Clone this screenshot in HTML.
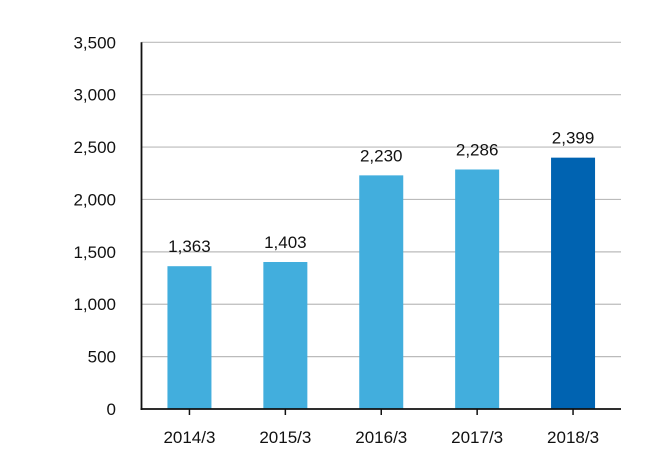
<!DOCTYPE html>
<html><head><meta charset="utf-8"><style>
html,body{margin:0;padding:0;background:#fff;}
svg{display:block;font-family:"Liberation Sans",sans-serif;}
</style></head><body>
<svg id="chart" width="660" height="460"></svg>
<script>
const categories=["2014/3","2015/3","2016/3","2017/3","2018/3"];
const values=[1363,1403,2230,2286,2399];
const valueLabels=["1,363","1,403","2,230","2,286","2,399"];
const tickValues=[0,500,1000,1500,2000,2500,3000,3500];
const tickLabels=["0","500","1,000","1,500","2,000","2,500","3,000","3,500"];
const NS="http://www.w3.org/2000/svg";
const svg=document.getElementById('chart');
const x0=141.5,x1=621,yBase=409,yTop=42.3,vMax=3500;
const band=(x1-x0)/categories.length,barW=44;
function y(v){return yBase-(v/vMax)*(yBase-yTop);}
function xc(i){return x0+band*(i+0.5);}
function mk(t,a){const e=document.createElementNS(NS,t);for(const k in a)e.setAttribute(k,a[k]);svg.appendChild(e);return e;}
tickValues.forEach((v,i)=>{
  if(v>0){const g=mk('line',{x1:x0,x2:x1,y1:y(v),y2:y(v),stroke:'#bbb','stroke-width':1.2});
  
  }
  const t=mk('text',{x:116,y:y(v)+6,'text-anchor':'end','font-size':17,fill:'#111'});
  t.textContent=tickLabels[i];
  
  
});
values.forEach((v,i)=>{
  const r=mk('rect',{x:xc(i)-barW/2,y:y(v),width:barW,height:yBase-y(v),fill:i===values.length-1?'#0063b1':'#42aedd'});
  
  
  const l=mk('text',{x:xc(i),y:y(v)-14,'text-anchor':'middle','font-size':17,fill:'#111'});
  l.textContent=valueLabels[i];
  
  
  const tk=mk('line',{x1:xc(i),x2:xc(i),y1:yBase,y2:yBase+6,stroke:'#111','stroke-width':1.5});
  
  
  const c=mk('text',{x:xc(i),y:443,'text-anchor':'middle','font-size':17,fill:'#111'});
  c.textContent=categories[i];
  
  
});
const ya=mk('line',{x1:x0,x2:x0,y1:yTop,y2:yBase+1,stroke:'#111','stroke-width':1.8});


const xa=mk('line',{x1:x0-1,x2:x1,y1:yBase,y2:yBase,stroke:'#111','stroke-width':1.8});


</script>
</body></html>
